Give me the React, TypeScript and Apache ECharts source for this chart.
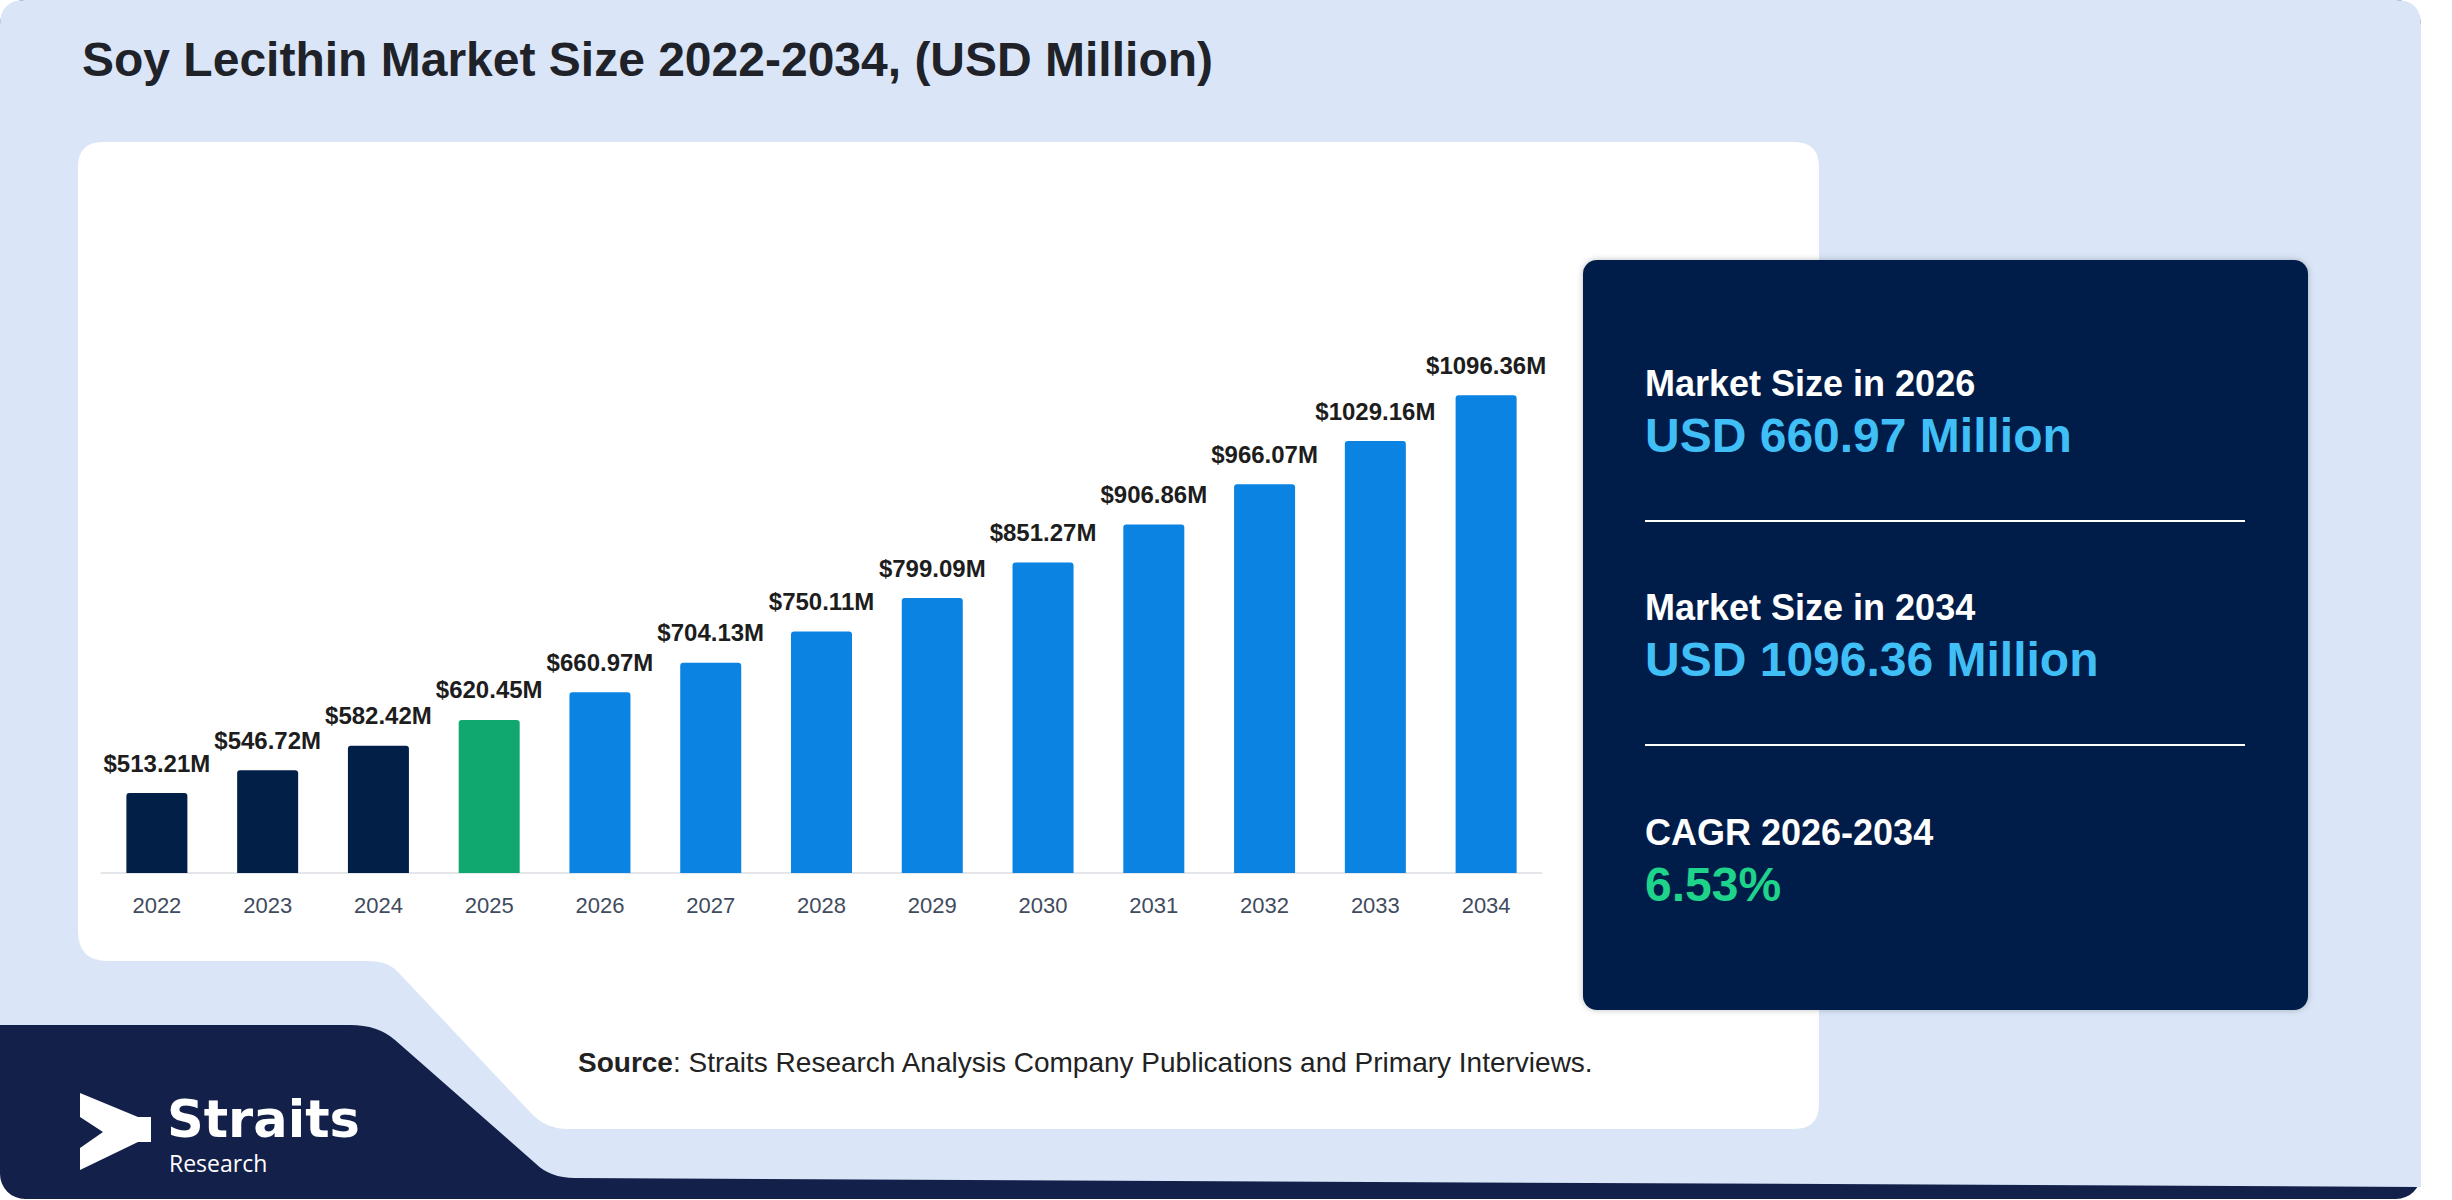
import React, { useEffect, useRef } from "react";
import * as echarts from "echarts";

// ---------- data ----------
const years = ["2022", "2023", "2024", "2025", "2026", "2027", "2028", "2029", "2030", "2031", "2032", "2033", "2034"];
const marketValues = [513.21, 546.72, 582.42, 620.45, 660.97, 704.13, 750.11, 799.09, 851.27, 906.86, 966.07, 1029.16, 1096.36];
const periodType = ["hist", "hist", "hist", "base", "fc", "fc", "fc", "fc", "fc", "fc", "fc", "fc", "fc"];
const periodColors: Record<string, string> = { hist: "#021f47", base: "#10a86e", fc: "#0a83e2" };

const titleText = "Soy Lecithin Market Size 2022-2034, (USD Million)";
const statLabels = ["Market Size in 2026", "Market Size in 2034", "CAGR 2026-2034"];
const statValues = ["USD 660.97 Million", "USD 1096.36 Million", "6.53%"];
const sourceText = "Straits Research Analysis Company Publications and Primary Interviews.";

// ---------- shapes ----------
const lightBluePath =
  "M25 0 H2396 Q2421 0 2421 25 V1187 L575 1178 Q550 1178 535 1163 L395 1040 Q378 1025 350 1025 H0 V25 Q0 0 25 0 Z";
const whitePanelPath =
  "M103 142 H1794 Q1819 142 1819 167 V1104 Q1819 1129 1794 1129 H568 Q545 1129 530 1112 L398 972 Q388 961 368 961 H108 Q78 961 78 931 V167 Q78 142 103 142 Z";

echarts.graphic.registerShape("lightBlueBg", echarts.graphic.extendPath(lightBluePath, {}));
echarts.graphic.registerShape("whitePanelBg", echarts.graphic.extendPath(whitePanelPath, {}));

const SANS = 'Arial, "Liberation Sans", sans-serif';

export default function App() {
  const ref = useRef<HTMLDivElement>(null);

  useEffect(() => {
    if (!ref.current) return;
    const chart = echarts.init(ref.current, null, { renderer: "svg" });

    const statY = [
      [383, 435],
      [607, 659],
      [832, 884],
    ];
    const statColors = ["#3fbff5", "#3fbff5", "#1ed38a"];

    const graphics: any[] = [
      { type: "rect", z: 1, silent: true, shape: { x: 0, y: 0, width: 2421, height: 1199, r: 25 }, style: { fill: "#132049" } },
      { type: "lightBlueBg", z: 2, silent: true, x: 0, y: 0, style: { fill: "#dae6f8" } },
      { type: "whitePanelBg", z: 3, silent: true, x: 0, y: 0, style: { fill: "#ffffff" } },
      {
        type: "text",
        z: 4,
        x: 82,
        y: 59,
        style: { text: titleText, font: `bold 48px ${SANS}`, fill: "#1f2329", verticalAlign: "middle", align: "left" },
      },
      {
        type: "rect",
        z: 20,
        silent: true,
        shape: { x: 1583, y: 260, width: 725, height: 750, r: 14 },
        style: { fill: "#011f48", shadowBlur: 6, shadowColor: "rgba(0,0,0,0.25)" },
      },
      { type: "line", z: 21, shape: { x1: 1645, y1: 521, x2: 2245, y2: 521 }, style: { stroke: "#ffffff", lineWidth: 2 } },
      { type: "line", z: 21, shape: { x1: 1645, y1: 745, x2: 2245, y2: 745 }, style: { stroke: "#ffffff", lineWidth: 2 } },
      {
        type: "text",
        z: 4,
        x: 578,
        y: 1062,
        style: {
          text: `{b|Source}: ${sourceText}`,
          font: `28px ${SANS}`,
          fill: "#222222",
          verticalAlign: "middle",
          rich: { b: { fontWeight: "bold", fontSize: 28, fontFamily: SANS, fill: "#222222" } },
        },
      },
      // logo
      {
        type: "polygon",
        z: 4,
        shape: {
          points: [
            [80, 1093],
            [138, 1117],
            [151, 1117],
            [151, 1142],
            [138, 1142],
            [80, 1170],
            [80, 1148],
            [103, 1132],
            [80, 1117],
          ],
        },
        style: { fill: "#ffffff" },
      },
      {
        type: "text",
        z: 4,
        x: 167,
        y: 1119,
        style: {
          text: "Straits",
          font: `bold 51px "DejaVu Sans", sans-serif`,
          lineHeight: 46,
          fill: "#ffffff",
          verticalAlign: "middle",
        },
      },
      {
        type: "text",
        z: 4,
        x: 169,
        y: 1163,
        style: {
          text: "Research",
          font: `23px "Open Sans", sans-serif`,
          lineHeight: 22,
          fill: "#ffffff",
          verticalAlign: "middle",
        },
      },
    ];

    statLabels.forEach((lab, i) => {
      graphics.push({
        type: "text",
        z: 22,
        x: 1645,
        y: statY[i][0],
        style: { text: lab, font: `bold 36px ${SANS}`, fill: "#ffffff", verticalAlign: "middle" },
      });
      graphics.push({
        type: "text",
        z: 22,
        x: 1645,
        y: statY[i][1],
        style: { text: statValues[i], font: `bold 48px ${SANS}`, fill: statColors[i], verticalAlign: "middle" },
      });
    });

    chart.setOption({
      animation: false,
      backgroundColor: "transparent",
      grid: { left: 101.5, right: 910.5, top: 300, bottom: 327, z: 10 },
      xAxis: {
        type: "category",
        data: years,
        z: 10,
        axisLine: { show: true, lineStyle: { color: "#e4e6ea", width: 2 } },
        axisTick: { show: false },
        axisLabel: { color: "#3f4b5e", fontSize: 22, fontFamily: SANS, margin: 21 },
      },
      yAxis: {
        type: "value",
        min: 396,
        max: 1236,
        show: false,
        splitLine: { show: false },
      },
      series: [
        {
          type: "bar",
          z: 10,
          barWidth: 61,
          data: marketValues.map((v, i) => ({
            value: v,
            itemStyle: { color: periodColors[periodType[i]], borderRadius: [3, 3, 0, 0] },
          })),
          label: {
            show: true,
            position: "top",
            distance: 18,
            formatter: (p: any) => `$${Number(p.value).toFixed(2)}M`,
            fontFamily: SANS,
            fontWeight: "bold",
            fontSize: 24,
            color: "#1d1d1d",
          },
        },
      ],
      graphic: { elements: graphics },
    });

    return () => chart.dispose();
  }, []);

  return (
    <div
      ref={ref}
      style={{ position: "absolute", left: 0, top: 0, width: 2452, height: 1200, background: "#ffffff" }}
    />
  );
}
